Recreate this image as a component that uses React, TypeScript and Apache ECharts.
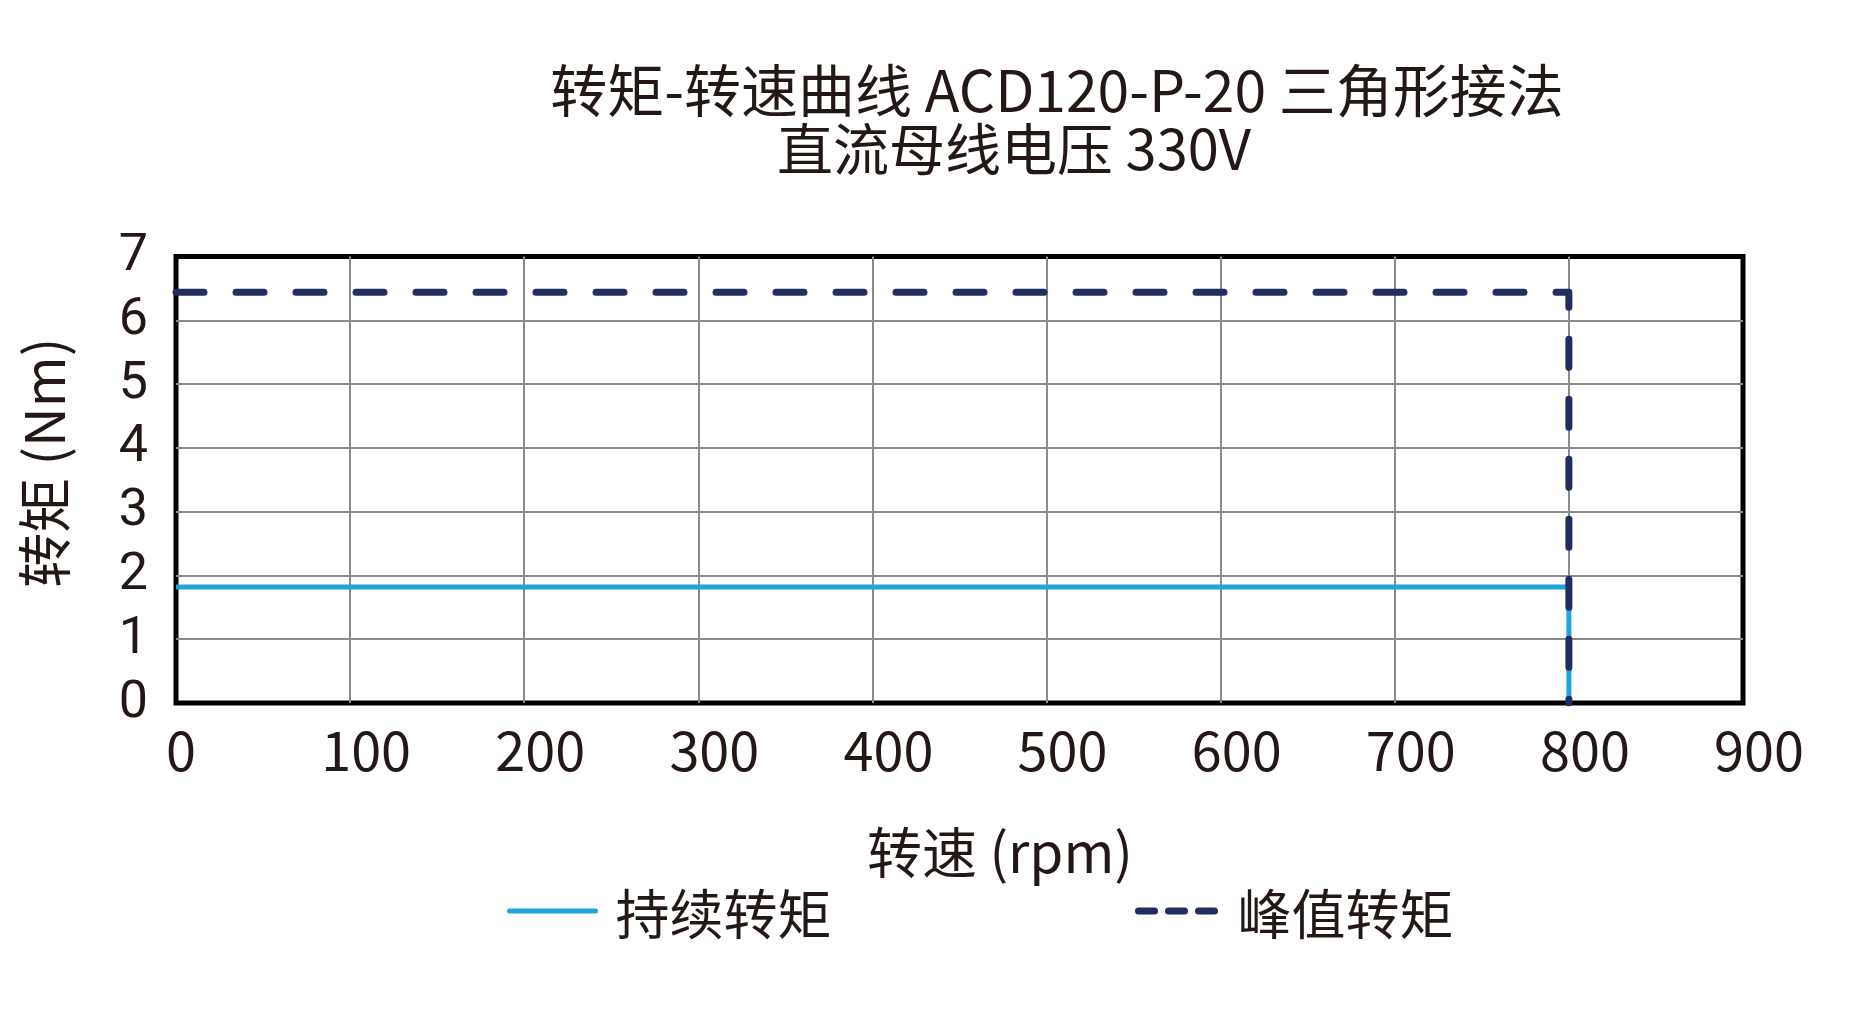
import { useEffect, useRef } from 'react'
import * as echarts from 'echarts'

// chart values
const titleLines = ['转矩-转速曲线 ACD120-P-20 三角形接法', '直流母线电压 330V']
const speedTicks = [0, 100, 200, 300, 400, 500, 600, 700, 800, 900]
const torqueTicks = [0, 1, 2, 3, 4, 5, 6, 7]
const seriesNames = ['持续转矩', '峰值转矩']
const continuousSpeed = [0, 800, 800]
const continuousTorque = [1.82, 1.82, 0]
const peakSpeed = [0, 800, 800]
const peakTorque = [6.44, 6.44, 0]
const xName = '转速 (rpm)'
const yName = '转矩 (Nm)'

const FONT = "'Noto Sans CJK SC', 'Noto Sans', sans-serif"
const DIGITS = "Roboto, 'Noto Sans', sans-serif"
const INK = '#231815'
const BLUE = '#1fa5dc'
const NAVY = '#202d5e'

const App: React.FC = () => {
  const chartRef = useRef<HTMLDivElement>(null)

  useEffect(() => {
    if (!chartRef.current) return
    const chart = echarts.init(chartRef.current, undefined, { renderer: 'svg' })

    const toPairs = (xs: number[], ys: number[]) => xs.map((x, i) => [x, ys[i]])
    // hide the little symbol dot that line-series legend icons carry
    const noDot = { color: 'transparent', borderWidth: 0, opacity: 0 }

    const option = {
      animation: false,
      backgroundColor: '#ffffff',
      textStyle: { fontFamily: FONT },
      title: {
        // second line sits a little left of the first one in the reference
        text: `{a|${titleLines[0]}}\n{b|${titleLines[1]}}`,
        left: 1057,
        top: 57,
        textAlign: 'center',
        padding: 0,
        textStyle: {
          fontFamily: FONT,
          fontWeight: 'normal',
          color: INK,
          rich: {
            a: { fontFamily: FONT, fontSize: 57, lineHeight: 59, color: INK },
            b: { fontFamily: FONT, fontSize: 56, lineHeight: 59, color: INK, padding: [0, 86, 0, 0] }
          }
        }
      },
      legend: [
        {
          left: 507,
          top: 884,
          padding: 0,
          itemWidth: 86,
          itemHeight: 14,
          itemStyle: noDot,
          data: [
            {
              name: seriesNames[0],
              itemStyle: noDot,
              lineStyle: { width: 5, cap: 'round' }
            }
          ],
          textStyle: { fontFamily: FONT, fontSize: 54, color: INK, padding: [0, 0, 0, 15] }
        },
        {
          left: 1135,
          top: 884,
          padding: 0,
          itemWidth: 82,
          itemHeight: 14,
          itemStyle: noDot,
          data: [
            {
              name: seriesNames[1],
              itemStyle: noDot,
              lineStyle: { width: 7, type: [16, 14], cap: 'round' }
            }
          ],
          textStyle: { fontFamily: FONT, fontSize: 54, color: INK, padding: [0, 0, 0, 12] }
        }
      ],
      grid: {
        left: 176,
        top: 256.5,
        width: 1567,
        height: 446.5,
        show: true,
        borderColor: '#000000',
        borderWidth: 5,
        backgroundColor: 'transparent'
      },
      xAxis: {
        type: 'value',
        min: speedTicks[0],
        max: speedTicks[speedTicks.length - 1],
        interval: speedTicks[1] - speedTicks[0],
        name: xName,
        nameLocation: 'middle',
        nameGap: 118,
        nameTextStyle: { fontFamily: FONT, fontSize: 55, color: INK, padding: [0, 0, 0, 81] },
        axisLine: { show: false },
        axisTick: { show: false },
        axisLabel: {
          margin: 17,
          showMinLabel: true,
          showMaxLabel: true,
          formatter: (v: number) => (v === speedTicks[0] ? `{z|${v}}` : `{n|${v}}`),
          rich: {
            n: { fontFamily: FONT, fontSize: 54, color: INK, padding: [0, 0, 0, 32] },
            z: { fontFamily: FONT, fontSize: 54, color: INK, padding: [0, 0, 0, 10] }
          }
        },
        splitLine: {
          show: true,
          showMinLine: false,
          showMaxLine: false,
          lineStyle: { color: '#8a8a8a', width: 2 }
        }
      },
      yAxis: {
        type: 'value',
        min: torqueTicks[0],
        max: torqueTicks[torqueTicks.length - 1],
        interval: torqueTicks[1] - torqueTicks[0],
        name: yName,
        nameLocation: 'middle',
        nameRotate: 90,
        nameGap: 108,
        nameTextStyle: { fontFamily: FONT, fontSize: 55, color: INK, padding: [0, 0, 0, 34] },
        axisLine: { show: false },
        axisTick: { show: false },
        axisLabel: {
          margin: 28,
          showMinLabel: true,
          showMaxLabel: true,
          hideOverlap: false,
          formatter: (v: number) => `{t|${v}}`,
          rich: {
            t: { fontFamily: DIGITS, fontSize: 52, lineHeight: 48, color: INK, padding: [0, 0, 8, 0] }
          }
        },
        splitLine: {
          show: true,
          showMinLine: false,
          showMaxLine: false,
          lineStyle: { color: '#8a8a8a', width: 2 }
        }
      },
      series: [
        {
          name: seriesNames[0],
          type: 'line',
          data: toPairs(continuousSpeed, continuousTorque),
          symbol: 'none',
          showSymbol: false,
          color: BLUE,
          lineStyle: { color: BLUE, width: 5, join: 'miter' },
          z: 3
        },
        {
          name: seriesNames[1],
          type: 'line',
          data: toPairs(peakSpeed, peakTorque),
          symbol: 'none',
          showSymbol: false,
          color: NAVY,
          lineStyle: { color: NAVY, width: 7, type: [28, 32], cap: 'round', join: 'round' },
          z: 4
        }
      ]
    }

    chart.setOption(option as any)

    return () => {
      chart.dispose()
    }
  }, [])

  return (
    <div
      ref={chartRef}
      style={{ position: 'absolute', left: 0, top: 0, width: '1860px', height: '1026px' }}
    />
  )
}

export default App
